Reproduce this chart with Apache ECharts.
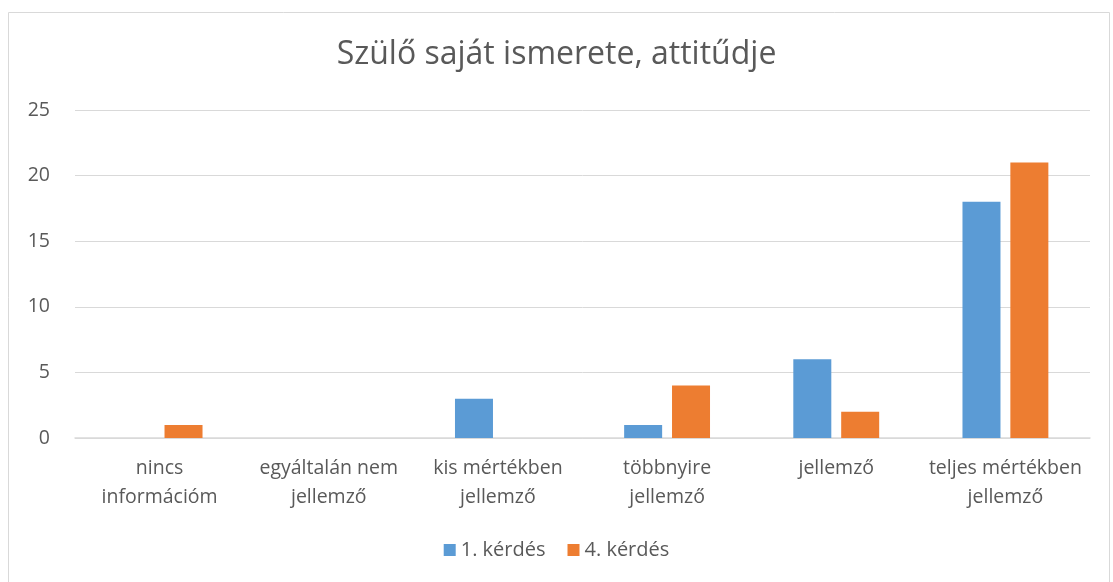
<!DOCTYPE html>
<html><head><meta charset="utf-8">
<script src="https://cdn.jsdelivr.net/npm/echarts@6/dist/echarts.min.js"></script>
<style>html,body{margin:0;padding:0;background:#fff}#c{width:1113px;height:582px}</style>
</head><body><div id="c"></div>
<script>
const categories = ["nincs\ninformációm", "egyáltalán nem\njellemző", "kis mértékben\njellemző", "többnyire\njellemző", "jellemző", "teljes mértékben\njellemző"];
const seriesNames = ["1. kérdés", "4. kérdés"];
const q1 = [0, 0, 3, 1, 6, 18];
const q4 = [1, 0, 0, 4, 2, 21];
const chartTitle = "Szülő saját ismerete, attitűdje";

const font = "'Open Sans', 'Noto Sans', sans-serif";
const chart = echarts.init(document.getElementById('c'));
chart.setOption({
  animation: false,
  graphic: [{type: 'rect', shape: {x: 8.5, y: 12.5, width: 1101, height: 575}, style: {fill: 'none', stroke: '#d9d9d9', lineWidth: 1}}],
  title: {text: chartTitle, left: 'center', top: 34, textStyle: {fontFamily: font, fontSize: 32, fontWeight: 'normal', color: '#595959'}},
  legend: {data: seriesNames, bottom: 17, left: 'center', itemWidth: 12, itemHeight: 12, itemGap: 22, icon: 'rect',
    textStyle: {fontFamily: font, fontSize: 20, color: '#595959'}},
  grid: {left: 75, right: 23, top: 110, bottom: 144, containLabel: false},
  xAxis: {type: 'category', data: categories,
    axisLine: {lineStyle: {color: '#d9d9d9', width: 1.5}}, axisTick: {show: false},
    axisLabel: {fontFamily: font, fontSize: 19.5, color: '#595959', lineHeight: 29, margin: 16, interval: 0}},
  yAxis: {type: 'value', min: 0, max: 25, interval: 5,
    axisLine: {show: false}, axisTick: {show: false},
    splitLine: {lineStyle: {color: '#d9d9d9', width: 1}},
    axisLabel: {fontFamily: font, fontSize: 19.5, color: '#595959', margin: 25}},
  series: [
    {name: seriesNames[0], type: 'bar', data: q1, itemStyle: {color: '#5B9BD5'}, barWidth: 38, barGap: '26%'},
    {name: seriesNames[1], type: 'bar', data: q4, itemStyle: {color: '#ED7D31'}, barWidth: 38}
  ]
});
</script></body></html>
